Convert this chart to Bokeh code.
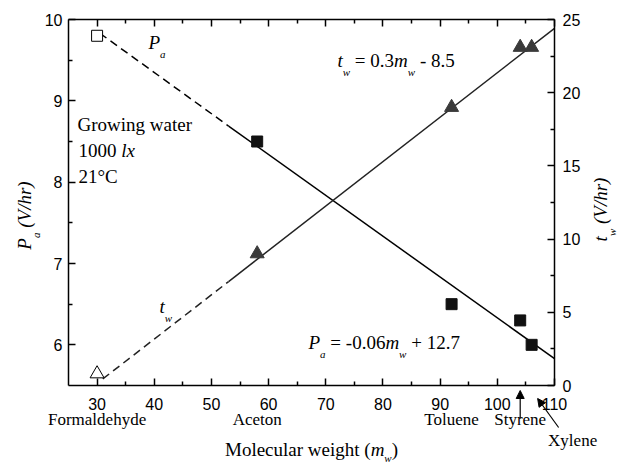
from bokeh.plotting import figure
from bokeh.models import (Range1d, LinearAxis, Label, Arrow, NormalHead,
                          CustomJSTickFormatter, FixedTicker)
from bokeh.embed import file_html
from bokeh.resources import INLINE

# ---------------- data ----------------
compounds = ["Formaldehyde", "Aceton", "Toluene", "Styrene", "Xylene"]
mw = [30, 58, 92, 104, 106]
pa = [9.8, 8.5, 6.5, 6.3, 6.0]          # P_a (V/hr), left axis
tw = [0.8, 9.0, 19.0, 23.1, 23.1]       # t_w (V/hr), right axis
# fitted lines (dashed extrapolation, then solid)
pa_fit_x = [30.5, 53, 110]
pa_fit_y = [9.83, 8.69, 5.83]
tw_fit_x = [31, 53, 110]
tw_fit_y = [0.45, 7.1, 24.4]
x_ticks = [30, 40, 50, 60, 70, 80, 90, 100, 110]
x_minor = [35, 45, 55, 65, 75, 85, 95, 105]
pa_ticks = [6, 7, 8, 9, 10]
pa_minor = [6.5, 7.5, 8.5, 9.5]
tw_ticks = [0, 5, 10, 15, 20, 25]
tw_minor = [2.5, 7.5, 12.5, 17.5, 22.5]
x_lim = (25, 110)
pa_lim = (5.5, 10)
tw_lim = (0, 25)

# ---------------- layout (canvas px of the axes box) ----------------
W, H = 617, 464
BOX_L, BOX_R, BOX_T, BOX_B = 68, 554, 19, 385
SERIF = "Liberation Serif"
SANS = "Liberation Sans"
BASE_FIX = 0.3   # label baseline correction (fraction of font size)

sx = (BOX_R - BOX_L) / (x_lim[1] - x_lim[0])
sy = (BOX_B - BOX_T) / (pa_lim[1] - pa_lim[0])
st = (BOX_B - BOX_T) / (tw_lim[1] - tw_lim[0])
xr = Range1d(x_lim[0] - BOX_L / sx, x_lim[1] + (W - BOX_R) / sx)
yr = Range1d(pa_lim[0] - (H - BOX_B) / sy, pa_lim[1] + BOX_T / sy)
tr = Range1d(tw_lim[0] - (H - BOX_B) / st, tw_lim[1] + BOX_T / st)

p = figure(width=W, height=H, x_range=xr, y_range=yr,
           x_axis_location=None, y_axis_location=None,
           output_backend="svg", toolbar_location=None,
           min_border_left=0, min_border_right=0, min_border_top=0, min_border_bottom=0)
p.extra_y_ranges = {"tw": tr}
p.grid.visible = False
p.outline_line_color = None
p.background_fill_color = "white"
p.border_fill_color = "white"

xaxis = LinearAxis(fixed_location=pa_lim[0], bounds=x_lim,
                   ticker=FixedTicker(ticks=x_ticks, minor_ticks=x_minor))
p.add_layout(xaxis, "below")
taxis = LinearAxis(fixed_location=pa_lim[1], bounds=x_lim,
                   ticker=FixedTicker(ticks=x_ticks, minor_ticks=x_minor),
                   formatter=CustomJSTickFormatter(code="return ''"))
p.add_layout(taxis, "above")
yaxis = LinearAxis(fixed_location=x_lim[0], bounds=pa_lim,
                   ticker=FixedTicker(ticks=pa_ticks, minor_ticks=pa_minor))
p.add_layout(yaxis, "left")
raxis = LinearAxis(y_range_name="tw", fixed_location=x_lim[1], bounds=tw_lim,
                   ticker=FixedTicker(ticks=tw_ticks, minor_ticks=tw_minor))
p.add_layout(raxis, "right")

for ax in (xaxis, taxis, yaxis, raxis):
    ax.axis_line_width = 1.5
    ax.axis_line_color = "black"
    ax.major_tick_in = 7
    ax.major_tick_out = 0
    ax.minor_tick_in = 4
    ax.minor_tick_out = 0
    ax.major_tick_line_width = 1.5
    ax.minor_tick_line_width = 1.5
    ax.major_tick_line_color = "black"
    ax.minor_tick_line_color = "black"
    ax.major_label_text_font = SANS
    ax.major_label_text_font_size = "16px"
    ax.major_label_text_color = "black"
xaxis.major_label_standoff = 12
yaxis.major_label_standoff = 6
raxis.major_label_standoff = 8
taxis.major_label_text_font_size = "1px"
taxis.major_label_standoff = 0

# ---------------- lines ----------------
p.line(pa_fit_x[:2], pa_fit_y[:2], line_color="black", line_width=1.5, line_dash="8 5")
p.line(pa_fit_x[1:], pa_fit_y[1:], line_color="black", line_width=1.5)
p.line(tw_fit_x[:2], tw_fit_y[:2], line_color="#222222", line_width=1.5, line_dash="8 5",
       y_range_name="tw")
p.line(tw_fit_x[1:], tw_fit_y[1:], line_color="#222222", line_width=1.5, y_range_name="tw")

# ---------------- markers ----------------
p.scatter(mw[1:], pa[1:], marker="square", size=11, fill_color="#111111", line_color="#111111")
p.scatter(mw[:1], pa[:1], marker="square", size=11, fill_color="white", line_color="black",
          line_width=1)
p.scatter(mw[1:], tw[1:], marker="triangle", size=14, fill_color="#3a3a3a", line_color="#3a3a3a",
          y_range_name="tw")
p.scatter(mw[:1], tw[:1], marker="triangle", size=14, fill_color="white", line_color="black",
          line_width=1, y_range_name="tw")

# ---------------- text helpers ----------------
REG = {' ': .25, '=': .564, '-': .333, '+': .564, '.': .25, '(': .333, ')': .333, 'M': .889,
       'o': .5, 'l': .278, 'e': .444, 'c': .444, 'u': .5, 'a': .444, 'r': .333, 'w': .722,
       'i': .278, 'g': .5, 'h': .5, 't': .278, 'n': .5}
ITA = {'P': .611, 'a': .5, 't': .278, 'w': .667, 'm': .722, 'V': .611, '/': .278, 'h': .5,
       'r': .389, 'l': .278, 'x': .444, '(': .333, ')': .333, ' ': .25}


def text_w(s, italic, size):
    tab = ITA if italic else REG
    return sum(tab.get(ch, 0.5) for ch in s) * size


def fy(cy):
    return H - cy


def add_label(t, x, y, fs, italic=False, angle=0.0, align="left"):
    p.add_layout(Label(x=x, y=y, x_units="screen", y_units="screen", text=t,
                       angle=angle, text_font=SERIF, text_font_size=f"{fs}px",
                       text_font_style="italic" if italic else "normal",
                       text_color="black", text_baseline="alphabetic",
                       text_align=align))


def rich(parts, cx, cy, size=19, angle=0.0, center=False, sub_off=9):
    """parts: (text, italic, sub). cx, cy = canvas px of the baseline start."""
    sub_size = 11
    widths = [text_w(t, it, sub_size if sb else size) for t, it, sb in parts]
    total = sum(widths)
    adv = -total / 2 if center else 0.0
    for (t, it, sb), w in zip(parts, widths):
        fs = sub_size if sb else size
        off = (sub_off if sb else 0) - BASE_FIX * fs
        stripped = t.lstrip(" ")
        lead = text_w(t[:len(t) - len(stripped)], it, fs)
        if angle == 0:
            x, y = cx + adv + lead, fy(cy + off)
        else:
            x, y = cx + off, fy(cy - adv - lead)
        add_label(stripped.rstrip(" "), x, y, fs, italic=it, angle=angle)
        adv += w


def plain(t, cx, cy, size=19, align="left"):
    add_label(t, cx, fy(cy - BASE_FIX * size), size, align=align)


# conditions
plain("Growing water", 77, 130)
rich([("1000 ", False, False), ("lx", True, False)], 78, 156)
plain("21°C", 78, 182)

# curve labels
rich([("P", True, False), ("a", True, True)], 148, 48)
rich([("t", True, False), ("w", True, True)], 159, 312)

# equations
rich([("t", True, False), ("w", True, True), (" = 0.3", False, False), ("m", True, False),
      ("w", True, True), (" - 8.5", False, False)], 337, 66)
rich([("P", True, False), ("a", True, True), (" = -0.06", False, False), ("m", True, False),
      ("w", True, True), (" + 12.7", False, False)], 308, 348)

# axis titles
rich([("Molecular weight (", False, False), ("m", True, False), ("w", True, True),
      (")", False, False)], 311, 455, center=True, sub_off=6)
rich([("P", True, False), ("a", True, True), (" (V/hr)", True, False)], 30, 215,
     angle=1.5707963, center=True)
rich([("t", True, False), ("w", True, True), (" (V/hr)", True, False)], 606, 209,
     angle=1.5707963, center=True)


# compound names under the x axis
def xpix(m):
    return BOX_L + (m - x_lim[0]) * sx


for name, m in zip(compounds[:4], mw[:4]):
    plain(name, xpix(m), 424, size=17, align="center")
plain(compounds[4], xpix(mw[4]) + 41, 445, size=17, align="center")

# arrows for Styrene and Xylene
p.add_layout(Arrow(end=NormalHead(size=8, fill_color="black", line_color="black"),
                   x_start=xpix(mw[3]), y_start=fy(418), x_end=xpix(mw[3]), y_end=fy(390),
                   start_units="screen", end_units="screen", line_width=1.2))
p.add_layout(Arrow(end=NormalHead(size=8, fill_color="black", line_color="black"),
                   x_start=xpix(mw[4]) + 27, y_start=fy(427), x_end=xpix(mw[4]) + 6,
                   y_end=fy(398), start_units="screen", end_units="screen", line_width=1.2))

open("out.html", "w").write(file_html(p, INLINE))
